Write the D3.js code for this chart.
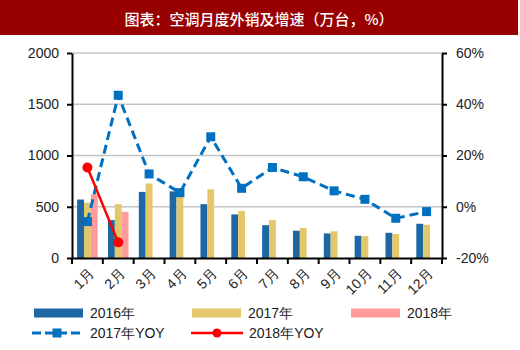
<!DOCTYPE html>
<html><head><meta charset="utf-8">
<script src="https://cdn.jsdelivr.net/npm/d3@7"></script>
<style>body{margin:0;background:#fff}svg{display:block}</style>
</head><body>
<svg id="c" width="520" height="350"></svg>
<script>
const months = ["1月","2月","3月","4月","5月","6月","7月","8月","9月","10月","11月","12月"];
const sales2016 = [570,370,645,650,525,425,320,266,240,217,246,334];
const sales2017 = [540,525,727,600,670,460,370,292,260,214,234,324];
const sales2018 = [620,450,null,null,null,null,null,null,null,null,null,null];
const yoy2017 = [-5.8,43.5,12.8,5.5,27.3,7.2,15.3,11.7,6.2,2.9,-4.5,-1.9];
const yoy2018 = [15.3,-13.9];
const leftTicks = [0,500,1000,1500,2000];
const rightTicks = [-20,0,20,40,60];
const title = "图表：空调月度外销及增速（万台，%）";

const colors = {s2016:"#1c67a4", s2017:"#e5c76b", s2018:"#ff9b9b", y2017:"#0070c0", y2018:"#ff0000"};
const svg = d3.select("#c");
const font = "'Liberation Sans', Arial, sans-serif";

// title bar
svg.append("rect").attr("x",0).attr("y",0).attr("width",518).attr("height",35).attr("fill","#990000");
svg.append("text").attr("x",259).attr("y",18).attr("text-anchor","middle").attr("dominant-baseline","central")
  .attr("fill","#fff").attr("font-family","'Noto Sans CJK SC', sans-serif").attr("font-size",15).attr("font-weight",500)
  .text(title);

const x0 = d3.scaleBand().domain(months).range([72,442]).padding(0);
const series = ["s2016","s2017","s2018"];
const x1 = d3.scaleBand().domain(series).range([0,x0.bandwidth()]).paddingInner(0).paddingOuter(0.75);
const yL = d3.scaleLinear().domain([0,2000]).range([258,53]);
const yR = d3.scaleLinear().domain([-20,60]).range([258,53]);

// gridlines
svg.append("g").selectAll("line").data(leftTicks.slice(1)).join("line")
  .attr("x1",72).attr("x2",442).attr("y1",d=>yL(d)).attr("y2",d=>yL(d))
  .attr("stroke","#c4c4c4").attr("stroke-width",1.5);

// bars
const data = months.map((m,i)=>({m, s2016:sales2016[i], s2017:sales2017[i], s2018:sales2018[i]}));
const g = svg.append("g");
data.forEach(d=>{
  series.forEach(s=>{
    if(d[s]==null) return;
    g.append("rect").attr("x",x0(d.m)+x1(s)).attr("width",x1.bandwidth())
      .attr("y",yL(d[s])).attr("height",yL(0)-yL(d[s])).attr("fill",colors[s]);
  });
});

// axes
const axL = svg.append("g").attr("transform","translate(72,0)")
  .call(d3.axisLeft(yL).tickValues(leftTicks).tickSize(5).tickPadding(8).tickSizeOuter(0).tickFormat(d3.format("d")));
const axR = svg.append("g").attr("transform","translate(442,0)")
  .call(d3.axisRight(yR).tickValues(rightTicks).tickSize(5).tickPadding(9).tickSizeOuter(0).tickFormat(d=>d+"%"));
const axB = svg.append("g").attr("transform","translate(0,258)")
  .call(d3.axisBottom(x0).tickSize(0).tickFormat(""));
[axL,axR,axB].forEach(a=>{
  a.select(".domain").attr("stroke","#000").attr("stroke-width",2);
  a.selectAll(".tick line").attr("stroke","#000").attr("stroke-width",2);
  a.selectAll("text").attr("font-family",font).attr("font-size",14).attr("fill","#222");
});
// category boundary ticks
const bounds = months.map(m=>x0(m)).concat([x0.range()[1]]);
axB.selectAll(".bt").data(bounds).join("line").attr("class","bt")
  .attr("x1",d=>d).attr("x2",d=>d).attr("y1",0).attr("y2",6).attr("stroke","#000").attr("stroke-width",2);
// rotated month labels
svg.append("g").selectAll("text").data(months).join("text")
  .attr("transform",d=>`translate(${x0(d)+x0.bandwidth()/2+4},${271}) rotate(-45)`)
  .attr("text-anchor","end").attr("dominant-baseline","central")
  .attr("font-family",font).attr("font-size",14).attr("fill","#222").text(d=>d);

// YOY 2017 line
const cx = m=>x0(m)+x0.bandwidth()/2;
const line2017 = d3.line().x((d,i)=>cx(months[i])).y(d=>yR(d));
svg.append("path").attr("d",line2017(yoy2017)).attr("fill","none")
  .attr("stroke",colors.y2017).attr("stroke-width",3).attr("stroke-dasharray","9,5");
svg.append("g").selectAll("rect").data(yoy2017).join("rect")
  .attr("x",(d,i)=>cx(months[i])-4.5).attr("y",d=>yR(d)-4.5).attr("width",9).attr("height",9)
  .attr("fill",colors.y2017);

// YOY 2018 line
svg.append("path").attr("d",line2017(yoy2018)).attr("fill","none")
  .attr("stroke",colors.y2018).attr("stroke-width",2.5);
svg.append("g").selectAll("circle").data(yoy2018).join("circle")
  .attr("cx",(d,i)=>cx(months[i])).attr("cy",d=>yR(d)).attr("r",5).attr("fill",colors.y2018);

// legend
const legRows = [
  {type:"bar", key:"s2016", label:"2016年", x:34, y:313},
  {type:"bar", key:"s2017", label:"2017年", x:192, y:313},
  {type:"bar", key:"s2018", label:"2018年", x:351, y:313},
  {type:"dash", key:"y2017", label:"2017年YOY", x:32, y:333},
  {type:"solid", key:"y2018", label:"2018年YOY", x:191, y:333}
];
const lg = svg.append("g");
legRows.forEach(l=>{
  if(l.type==="bar"){
    lg.append("rect").attr("x",l.x).attr("y",l.y-4.5).attr("width",49).attr("height",9).attr("fill",colors[l.key]);
  } else if(l.type==="dash"){
    lg.append("line").attr("x1",l.x).attr("x2",l.x+50).attr("y1",l.y).attr("y2",l.y)
      .attr("stroke",colors[l.key]).attr("stroke-width",3).attr("stroke-dasharray","9,4");
    lg.append("rect").attr("x",l.x+25-4.5).attr("y",l.y-4.5).attr("width",9).attr("height",9).attr("fill",colors[l.key]);
  } else {
    lg.append("line").attr("x1",l.x).attr("x2",l.x+52).attr("y1",l.y).attr("y2",l.y)
      .attr("stroke",colors[l.key]).attr("stroke-width",2.5);
    lg.append("circle").attr("cx",l.x+26).attr("cy",l.y).attr("r",4.5).attr("fill",colors[l.key]);
  }
  lg.append("text").attr("x",l.type==="bar"? l.x+56 : l.x+58).attr("y",l.y).attr("dominant-baseline","central")
    .attr("font-family",font).attr("font-size",14).attr("fill","#222").text(l.label);
});
</script>
</body></html>
